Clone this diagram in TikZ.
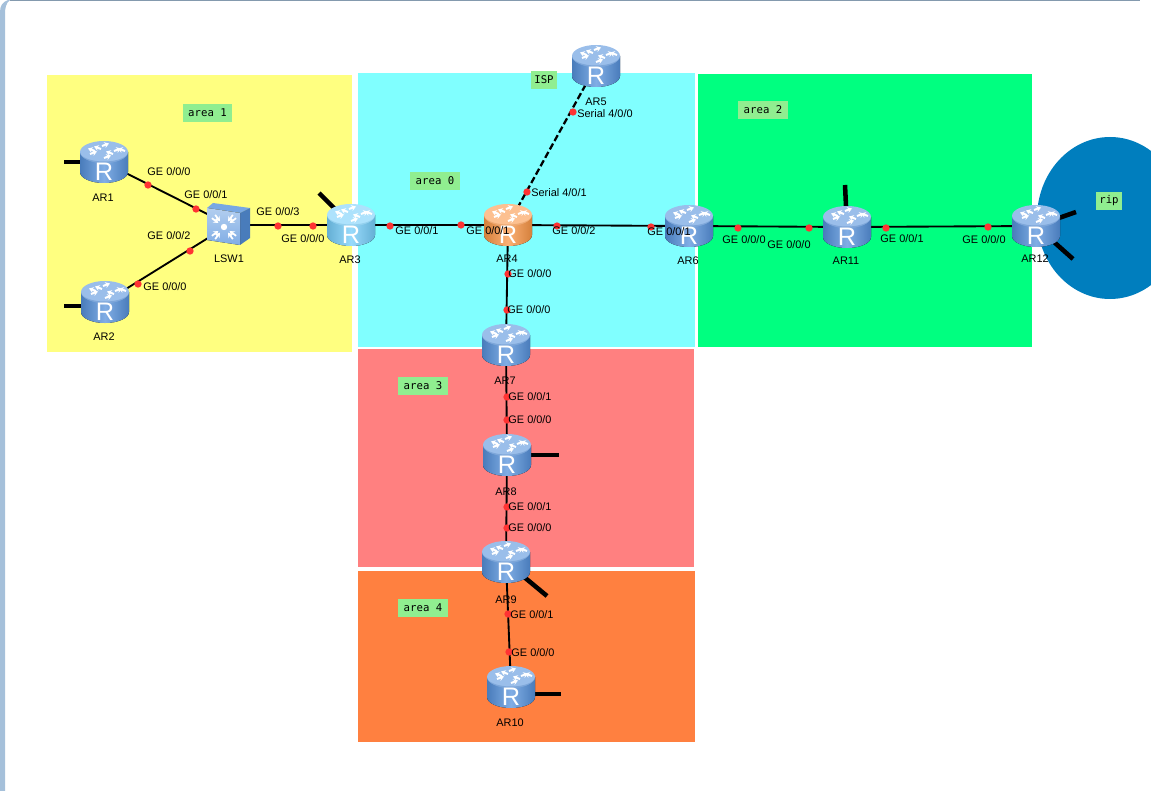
\documentclass[tikz,border=0pt]{standalone}
\usepackage{fontspec}
\setmainfont{Liberation Sans}
\newfontfamily\areafont{DejaVu Sans Mono}
\usetikzlibrary{arrows.meta}
\pgfdeclarelayer{areas}
\pgfdeclarelayer{links}
\pgfsetlayers{areas,links,main}
\definecolor{routerblue}{RGB}{86,146,220}
\definecolor{routercyan}{RGB}{118,206,250}
\definecolor{routerorange}{RGB}{250,150,70}
\definecolor{tagbg}{RGB}{144,238,144}
\definecolor{edgeblue}{RGB}{165,192,218}
\definecolor{ripblue}{RGB}{0,126,190}
\definecolor{areayellow}{RGB}{255,255,128}
\definecolor{areacyan}{RGB}{128,255,255}
\definecolor{areagreen}{RGB}{0,255,128}
\definecolor{areared}{RGB}{255,128,128}
\definecolor{areaorange}{RGB}{255,128,64}
\tikzset{
    routerbox/.style={inner sep=0pt, minimum width=34.5pt, minimum height=30pt},
    portdot/.style={circle, fill=red!80!white, inner sep=0pt, minimum size=5.5pt},
    portlabel/.style={inner sep=0pt, font=\fontsize{8.2}{10}\selectfont},
    tag/.style={fill=tagbg, inner sep=0pt, minimum height=13.5pt, font=\areafont\fontsize{8}{10}\selectfont},
    link/.style={black, line width=1.4pt},
    stub/.style={black, line width=3.4pt},
    pics/router/.style={code={
        \fill[left color=#1!85!black, right color=#1!85!black, middle color=#1!75!white]
            (-24,-10) -- (-24,10) arc[start angle=180, end angle=0, x radius=24, y radius=11] -- (24,-10) -- cycle;
        \fill[#1!60!white] (0,-10) ellipse[x radius=24, y radius=11];
        \fill[#1!85!black, opacity=.35] (-24,-10) arc[start angle=180, end angle=0, x radius=24, y radius=11]
            arc[start angle=0, end angle=180, x radius=24, y radius=9.5] -- cycle;
        \foreach \a/\b in {-14/-8, 0/-4, 10/-11, -2/-16}
            \draw[white, line width=1.5pt, -{Stealth[length=3.5pt,width=4.5pt]}] (\a,\b) -- ++(7,-2.5);
        \foreach \a/\b in {9/-8, 21/-11, -3/-13, -9/-11}
            \draw[white, line width=1.5pt, -{Stealth[length=3.5pt,width=4.5pt]}] (\a,\b) -- ++(-7,-2.5);
        \node[white, inner sep=0pt, font=\fontsize{19}{19}\selectfont] at (0,10) {R};
    }},
    pics/switch/.style={code={
        \fill[routerblue!80!white] (-22,-17) -- (-16,-22) -- (21,-17) -- (11,-12) -- cycle;
        \fill[routerblue!85!black] (11,-12) -- (21,-17) -- (21,13) -- (11,20) -- cycle;
        \fill[top color=routerblue!45!white, bottom color=routerblue!75!white] (-22,-17) -- (11,-12) -- (11,20) -- (-22,15) -- cycle;
        \fill[white] (-5,2) circle (3.2);
        \foreach \ang in {45,135,225,315}
            \foreach \off in {-3,3}
                \draw[white, line width=1.3pt, -{Stealth[length=3.5pt,width=4.5pt]}]
                    ([shift={(-5,2)}]\ang+\off*3:15) -- ([shift={(-5,2)}]\ang+\off*3:7);
    }},
}
\begin{document}
\begin{tikzpicture}[x=0.75pt, y=-0.75pt]
    \useasboundingbox (0,0) rectangle (1151,791);

    % Window frame
    \begin{pgfonlayer}{areas}
        \fill[edgeblue] (0,791) -- (0,12) .. controls (0,5) and (3,2) .. (8,0) -- (10,0) .. controls (6,3) and (5,8) .. (5,14) -- (5,791) -- cycle;
        \fill[edgeblue!80!black] (10,0) rectangle (1140,1.3);

        % Areas
        \clip (0,0) rectangle (1151,791);
        \fill[ripblue] (1110,218) ellipse[x radius=73, y radius=81];
        \fill[areayellow] (47,75) rectangle (352,352);
        \fill[areacyan] (358,73) rectangle (695,347);
        \fill[areagreen] (698,74) rectangle (1032,347);
        \fill[areared] (358,349) rectangle (694,567);
        \fill[areaorange] (358,571) rectangle (695,742);
    \end{pgfonlayer}

    % Routers
    \foreach \name/\x/\y/\col/\lx/\ly in {AR1/104/162/routerblue/103/198, AR2/105/302/routerblue/104/337,
        AR3/351/225/routercyan/350/260, AR4/508/225/routerorange/507/259, AR5/596/66/routerblue/596/102,
        AR6/689/226/routerblue/688/261, AR7/506/345/routerblue/505/381, AR8/507/455/routerblue/506/492,
        AR9/506/562/routerblue/506/600, AR10/511/687/routerblue/510/723, AR11/847/227/routerblue/846/261,
        AR12/1036/226/routerblue/1035/259} {
        \pic at (\x,\y) {router=\col};
        \node[routerbox] (\name) at (\x,\y) {};
        \node[portlabel] (\name-name) at (\lx,\ly) {\name};
    }

    % Switch
    \pic at (229,225) {switch};
    \node[routerbox] (LSW1) at (229,225) {};
    \node[portlabel] (LSW1-name) at (229,259) {LSW1};

    % Free ends
    \coordinate (end1) at (64,162);
    \coordinate (end2) at (64,306);
    \coordinate (end3) at (319,193);
    \coordinate (end8) at (559,455);
    \coordinate (end9) at (547,596);
    \coordinate (end10) at (561,694);
    \coordinate (end11) at (845,185);
    \coordinate (end12a) at (1076,212);
    \coordinate (end12b) at (1073,259);

    % Links
    \begin{pgfonlayer}{links}
        \foreach \a/\b in {AR1/LSW1, AR2/LSW1, LSW1/AR3, AR3/AR4, AR4/AR6, AR6/AR11, AR11/AR12, AR4/AR7, AR7/AR8, AR8/AR9, AR9/AR10}
            \draw[link] (\a.center) -- (\b.center);
        \draw[link, line width=1.7pt, dash pattern=on 5pt off 2.2pt] (AR4.center) -- (AR5.center);
        \foreach \a/\b in {AR1/end1, AR2/end2, AR8/end8, AR10/end10}
            \draw[stub] (\a.center |- \b) -- (\b);
        \foreach \a/\b in {AR3/end3, AR9/end9, AR11/end11, AR12/end12a, AR12/end12b}
            \draw[stub] (\a.center) -- (\b);
    \end{pgfonlayer}

    % Ports
    \foreach \x/\y [count=\i] in {148/185, 196/209, 190/251, 138/284, 278/226, 313/226, 390/226, 461/225,
        557/226, 651/227, 508/274, 507/310, 573/112, 527/192, 507/397, 507/420, 507/507, 507/528,
        508/614, 509/652, 738/228, 809/228, 886/228, 988/227}
        \node[portdot] (port\i) at (\x,\y) {};

    % Port labels
    \foreach \x/\y/\txt [count=\i] in {169/172/GE 0\slash0\slash0, 206/195/GE 0\slash0\slash1, 169/236/GE 0\slash0\slash2,
        165/287/GE 0\slash0\slash0, 278/212/GE 0\slash0\slash3, 303/239/GE 0\slash0\slash0, 417/231/GE 0\slash0\slash1,
        488/231/GE 0\slash0\slash1, 574/231/GE 0\slash0\slash2, 669/232/GE 0\slash0\slash1,
        530/274/GE 0\slash0\slash0, 529/310/GE 0\slash0\slash0, 605/114/Serial 4\slash0\slash0, 559/193/Serial 4\slash0\slash1,
        530/397/GE 0\slash0\slash1, 530/420/GE 0\slash0\slash0, 530/507/GE 0\slash0\slash1, 530/528/GE 0\slash0\slash0,
        532/615/GE 0\slash0\slash1, 533/653/GE 0\slash0\slash0, 744/240/GE 0\slash0\slash0, 789/245/GE 0\slash0\slash0,
        902/239/GE 0\slash0\slash1, 984/240/GE 0\slash0\slash0}
        \node[portlabel] (portlabel\i) at (\x,\y) {\txt};

    % Area tags
    \node[tag, minimum width=37pt] (area1) at (207.5,113) {area 1};
    \node[tag, minimum width=37pt] (area0) at (435,181) {area 0};
    \node[tag, minimum width=37pt] (area2) at (763,110) {area 2};
    \node[tag, minimum width=37pt] (area3) at (423,386) {area 3};
    \node[tag, minimum width=37pt] (area4) at (423,608) {area 4};
    \node[tag, minimum width=20pt] (isp) at (544,80) {ISP};
    \node[tag, minimum width=20pt] (rip) at (1109,201) {rip};
\end{tikzpicture}
\end{document}
